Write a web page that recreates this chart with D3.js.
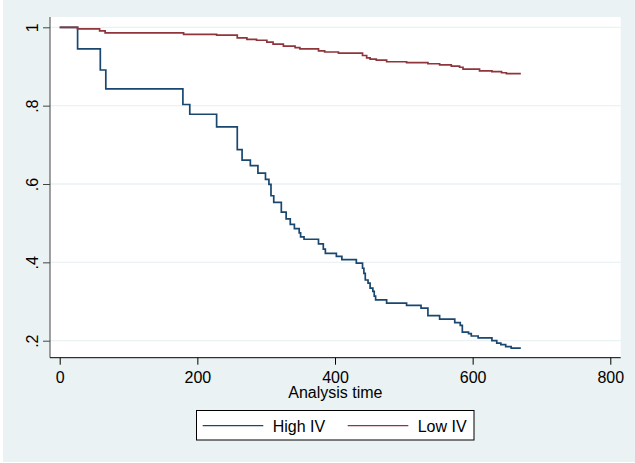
<!DOCTYPE html>
<html>
<head>
<meta charset="utf-8">
<script src="https://cdn.jsdelivr.net/npm/d3@7"></script>
<style>
  body { margin: 0; background: #fff; }
  text { font-family: "Liberation Sans", Arial, sans-serif; }
</style>
</head>
<body>
<div id="graph"></div>
<script>
// KM survival estimates
var seriesNames = ['High IV', 'Low IV']
var seriesColors = ['#1a476f', '#90353b']

var highTime = [0, 26, 59, 67, 179, 189, 228, 258, 265, 277, 288, 299, 304, 307, 311, 322, 329, 335, 341, 348, 350, 355,
  376, 383, 386, 402, 410, 431, 440, 442, 444, 448, 451, 455, 457, 459, 475, 504, 525, 535, 552, 574, 582, 585,
  594, 598, 608, 628, 635, 641, 648, 656, 670]
var highSurv = [1, .945, .891, .843, .803, .778, .746, .688, .661, .647, .628, .612, .599, .570, .553, .528, .511, .497, .486, .475, .465, .459,
  .447, .434, .423, .415, .407, .398, .385, .372, .355, .347, .334, .326, .314, .304, .296, .290, .283, .264, .255, .246, .239,
  .222, .218, .212, .207, .200, .194, .190, .185, .181, .181]

var lowTime = [0, 26, 58, 66, 180, 228, 258, 272, 286, 301, 310, 325, 342, 349, 376, 385, 405, 440, 446, 451, 460,
  475, 504, 535, 552, 569, 581, 586, 610, 628, 642, 649, 670]
var lowSurv = [1, .996, .991, .986, .982, .980, .973, .969, .967, .962, .957, .952, .948, .945, .940, .937, .934, .928, .922, .919, .916,
  .912, .910, .907, .904, .901, .898, .893, .889, .887, .884, .882, .882]

var xTicks = [0, 200, 400, 600, 800]
var yTicks = [.2, .4, .6, .8, 1]
var yTickLabels = ['.2', '.4', '.6', '.8', '1']
var xTitle = 'Analysis time'

var width = 635, height = 463
var plot = {left: 50, top: 17, right: 620.7, bottom: 357.7}
var bg = '#eaf2f3'
var fontSize = '16px'

var svg = d3.select('#graph').append('svg')
    .attr('width', width)
    .attr('height', height)

svg.append('rect')
    .attr('x', 3).attr('y', 0)
    .attr('width', width - 3).attr('height', height - 1)
    .attr('fill', bg)

svg.append('rect')
    .attr('x', plot.left).attr('y', plot.top)
    .attr('width', plot.right - plot.left).attr('height', plot.bottom - plot.top)
    .attr('fill', '#fff')

var x = d3.scaleLinear().domain([0, 800]).range([59.7, 610.3])
var y = d3.scaleLinear().domain([.2, 1]).range([340.7, 27.3])

// grid
svg.append('g').selectAll('line')
    .data(yTicks)
  .enter().append('line')
    .attr('x1', plot.left).attr('x2', plot.right)
    .attr('y1', function(d){ return y(d) }).attr('y2', function(d){ return y(d) })
    .attr('stroke', bg)
    .attr('stroke-width', 1.3)

// y axis
var yAxis = svg.append('g')
    .attr('transform', 'translate(' + plot.left + ',0)')
    .call(d3.axisLeft(y).tickValues(yTicks).tickSize(7)
      .tickFormat(function(d, i){ return yTickLabels[i] }))
yAxis.select('.domain').remove()
yAxis.selectAll('.tick line').attr('stroke', '#444')
yAxis.selectAll('.tick text')
    .attr('x', null).attr('dy', null)
    .attr('transform', 'translate(-12,0) rotate(-90)')
    .attr('text-anchor', 'middle')
    .attr('fill', '#000')
    .style('font-size', fontSize)
yAxis.append('line')
    .attr('x1', 0).attr('x2', 0)
    .attr('y1', plot.top).attr('y2', plot.bottom)
    .attr('stroke', '#444')

// x axis
var xAxis = svg.append('g')
    .attr('transform', 'translate(0,' + plot.bottom + ')')
    .call(d3.axisBottom(x).tickValues(xTicks).tickSize(7).tickFormat(d3.format('d')))
xAxis.select('.domain').remove()
xAxis.selectAll('.tick line').attr('stroke', '#000')
xAxis.selectAll('.tick text')
    .attr('y', 25.3).attr('dy', null)
    .attr('fill', '#000')
    .style('font-size', fontSize)
xAxis.append('line')
    .attr('x1', plot.left).attr('x2', plot.right)
    .attr('y1', 0).attr('y2', 0)
    .attr('stroke', '#000')

svg.append('text')
    .attr('x', (plot.left + plot.right) / 2)
    .attr('y', 398.3)
    .attr('text-anchor', 'middle')
    .style('font-size', fontSize)
    .text(xTitle)

// survival curves
var series = [
  {name: seriesNames[0], color: seriesColors[0], pts: d3.zip(highTime, highSurv)},
  {name: seriesNames[1], color: seriesColors[1], pts: d3.zip(lowTime, lowSurv)}
]

var line = d3.line()
    .x(function(d){ return x(d[0]) })
    .y(function(d){ return y(d[1]) })
    .curve(d3.curveStepAfter)

svg.append('g').selectAll('path')
    .data(series)
  .enter().append('path')
    .attr('d', function(d){ return line(d.pts) })
    .attr('fill', 'none')
    .attr('stroke', function(d){ return d.color })
    .attr('stroke-width', 1.7)

// legend
var legend = svg.append('g')
legend.append('rect')
    .attr('x', 196.5).attr('y', 410.5)
    .attr('width', 277.5).attr('height', 29.5)
    .attr('fill', '#fff')
    .attr('stroke', '#000')

var items = legend.selectAll('g.item')
    .data(series)
  .enter().append('g')
    .attr('class', 'item')
    .attr('transform', function(d, i){ return 'translate(' + (202.7 + i * 145) + ',0)' })
items.append('line')
    .attr('x1', 0).attr('x2', 60.6)
    .attr('y1', 425.7).attr('y2', 425.7)
    .attr('stroke', function(d){ return d.color })
    .attr('stroke-width', 1.2)
items.append('text')
    .attr('x', 70).attr('y', 432.3)
    .style('font-size', fontSize)
    .text(function(d){ return d.name })
</script>
</body>
</html>
